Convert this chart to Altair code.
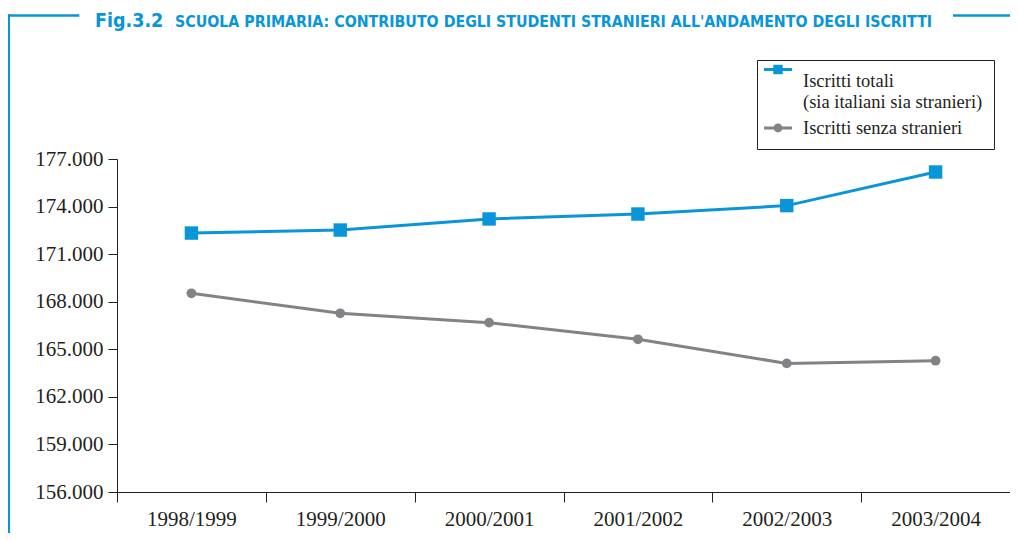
import altair as alt
import pandas as pd

# ---- data ----
anni = ["1998/1999", "1999/2000", "2000/2001", "2001/2002", "2002/2003", "2003/2004"]
iscritti_totali = [172330, 172520, 173220, 173530, 174060, 176180]
iscritti_senza_stranieri = [168530, 167270, 166680, 165630, 164110, 164280]
serie = ["Iscritti totali", "Iscritti senza stranieri"]
y_ticks = [156000, 159000, 162000, 165000, 168000, 171000, 174000, 177000]

titolo_fig = "Fig.3.2"
titolo_testo = "SCUOLA PRIMARIA: CONTRIBUTO DEGLI STUDENTI STRANIERI ALL'ANDAMENTO DEGLI ISCRITTI"

BLUE = "#0996d8"
GRAY = "#828386"
INK = "#231f20"
SERIF = "Liberation Serif"
COND = "DejaVu Sans Condensed, Liberation Sans Narrow, Roboto Condensed, DejaVu Sans"

df = pd.DataFrame({
    "anno": anni * 2,
    "iscritti": iscritti_totali + iscritti_senza_stranieri,
    "serie": [serie[0]] * len(anni) + [serie[1]] * len(anni),
})

W, H = 893, 333

x_enc = alt.X(
    "anno:N", sort=anni,
    scale=alt.Scale(type="band", paddingInner=0, paddingOuter=0),
    axis=alt.Axis(title=None, labelAngle=0, labelFont=SERIF, labelFontSize=21,
                  labelColor=INK, tickBand="extent", tickSize=10, tickColor=INK,
                  domainColor=INK, labelPadding=6, grid=False),
)
y_enc = alt.Y(
    "iscritti:Q",
    scale=alt.Scale(domain=[156000, 177000], nice=False, zero=False),
    axis=alt.Axis(title=None, values=y_ticks, labelFont=SERIF, labelFontSize=21,
                  labelColor=INK, tickSize=9, tickColor=INK, domainColor=INK,
                  labelPadding=5, grid=False,
                  labelExpr="replace(format(datum.value, ','), ',', '.')"),
)
col_scale = alt.Scale(domain=serie, range=[BLUE, GRAY])

base = alt.Chart(df)
lines = base.mark_line(strokeWidth=3).encode(
    x=x_enc, y=y_enc, color=alt.Color("serie:N", scale=col_scale, legend=None))
points = base.mark_point(filled=True, opacity=1).encode(
    x=x_enc, y=y_enc,
    color=alt.Color("serie:N", scale=col_scale, legend=None),
    shape=alt.Shape("serie:N", scale=alt.Scale(domain=serie, range=["square", "circle"]), legend=None),
    size=alt.Size("serie:N", scale=alt.Scale(domain=serie, range=[180, 95]), legend=None),
)

# legend symbols: line + marker (custom paths); the layer itself draws nothing
s = 1.15
path_sq = (f"M-1.4,{-0.14 - s}H1.4V{0.14 - s}H-1.4Z "
           f"M-0.47,{-0.47 - s}H0.47V{0.47 - s}H-0.47Z")
path_ci = ("M-1.4,-0.14H1.4V0.14H-1.4Z "
           "M0.44,0A0.44,0.44 0 1,1 -0.44,0A0.44,0.44 0 1,1 0.44,0Z")
legend_layer = base.mark_point(filled=True, opacity=1).encode(
    x=x_enc, y=y_enc,
    color=alt.Color("serie:N", scale=col_scale,
                    legend=alt.Legend(orient="none", legendX=640, legendY=-99, title=None,
                                      strokeColor=INK, padding=11, symbolSize=400,
                                      symbolOpacity=1, symbolStrokeWidth=0,
                                      labelFont=SERIF, labelFontSize=18.5, labelColor=INK,
                                      labelOffset=15, labelLimit=400, rowPadding=7,
                                      labelExpr="datum.label == 'Iscritti totali' ? ['Iscritti totali', '(sia italiani sia stranieri)'] : datum.label")),
    shape=alt.Shape("serie:N", scale=alt.Scale(domain=serie, range=[path_sq, path_ci])),
).transform_filter("false")

deco = alt.Chart(alt.Data(values=[{"k": 1}]))
LINE_Y = -143.5
TEXT_Y = -132.5
hline_left = deco.mark_rule(color=BLUE, strokeWidth=2.7, strokeCap="square").encode(
    x=alt.value(-109), x2=alt.value(-39), y=alt.value(LINE_Y), y2=alt.value(LINE_Y))
vline = deco.mark_rule(color=BLUE, strokeWidth=2.7, strokeCap="square").encode(
    x=alt.value(-108.3), x2=alt.value(-108.3), y=alt.value(LINE_Y), y2=alt.value(380))
hline_right = deco.mark_rule(color=BLUE, strokeWidth=2.7).encode(
    x=alt.value(836), x2=alt.value(900), y=alt.value(LINE_Y), y2=alt.value(LINE_Y))
t_fig = deco.mark_text(align="left", baseline="alphabetic", font=COND, fontSize=19.5,
                       fontWeight="bold", color=BLUE).encode(
    x=alt.value(-22), y=alt.value(TEXT_Y), text=alt.value(titolo_fig))
t_txt = deco.mark_text(align="left", baseline="alphabetic", font=COND, fontSize=15.8,
                       fontWeight="bold", color=BLUE).encode(
    x=alt.value(58), y=alt.value(TEXT_Y), text=alt.value(titolo_testo))

chart = alt.layer(
    lines, points, legend_layer, hline_left, vline, hline_right, t_fig, t_txt
).resolve_scale(
    color="independent", shape="independent", size="independent"
).resolve_legend(
    color="independent", shape="independent", size="independent"
).properties(
    width=W, height=H,
    autosize=alt.AutoSizeParams(type="none"),
    padding={"left": 109, "top": 151, "right": 0, "bottom": 41},
).configure(background="white").configure_view(stroke=None, strokeWidth=0)

chart.save("out.html", embed_options={"renderer": "svg", "actions": False})
